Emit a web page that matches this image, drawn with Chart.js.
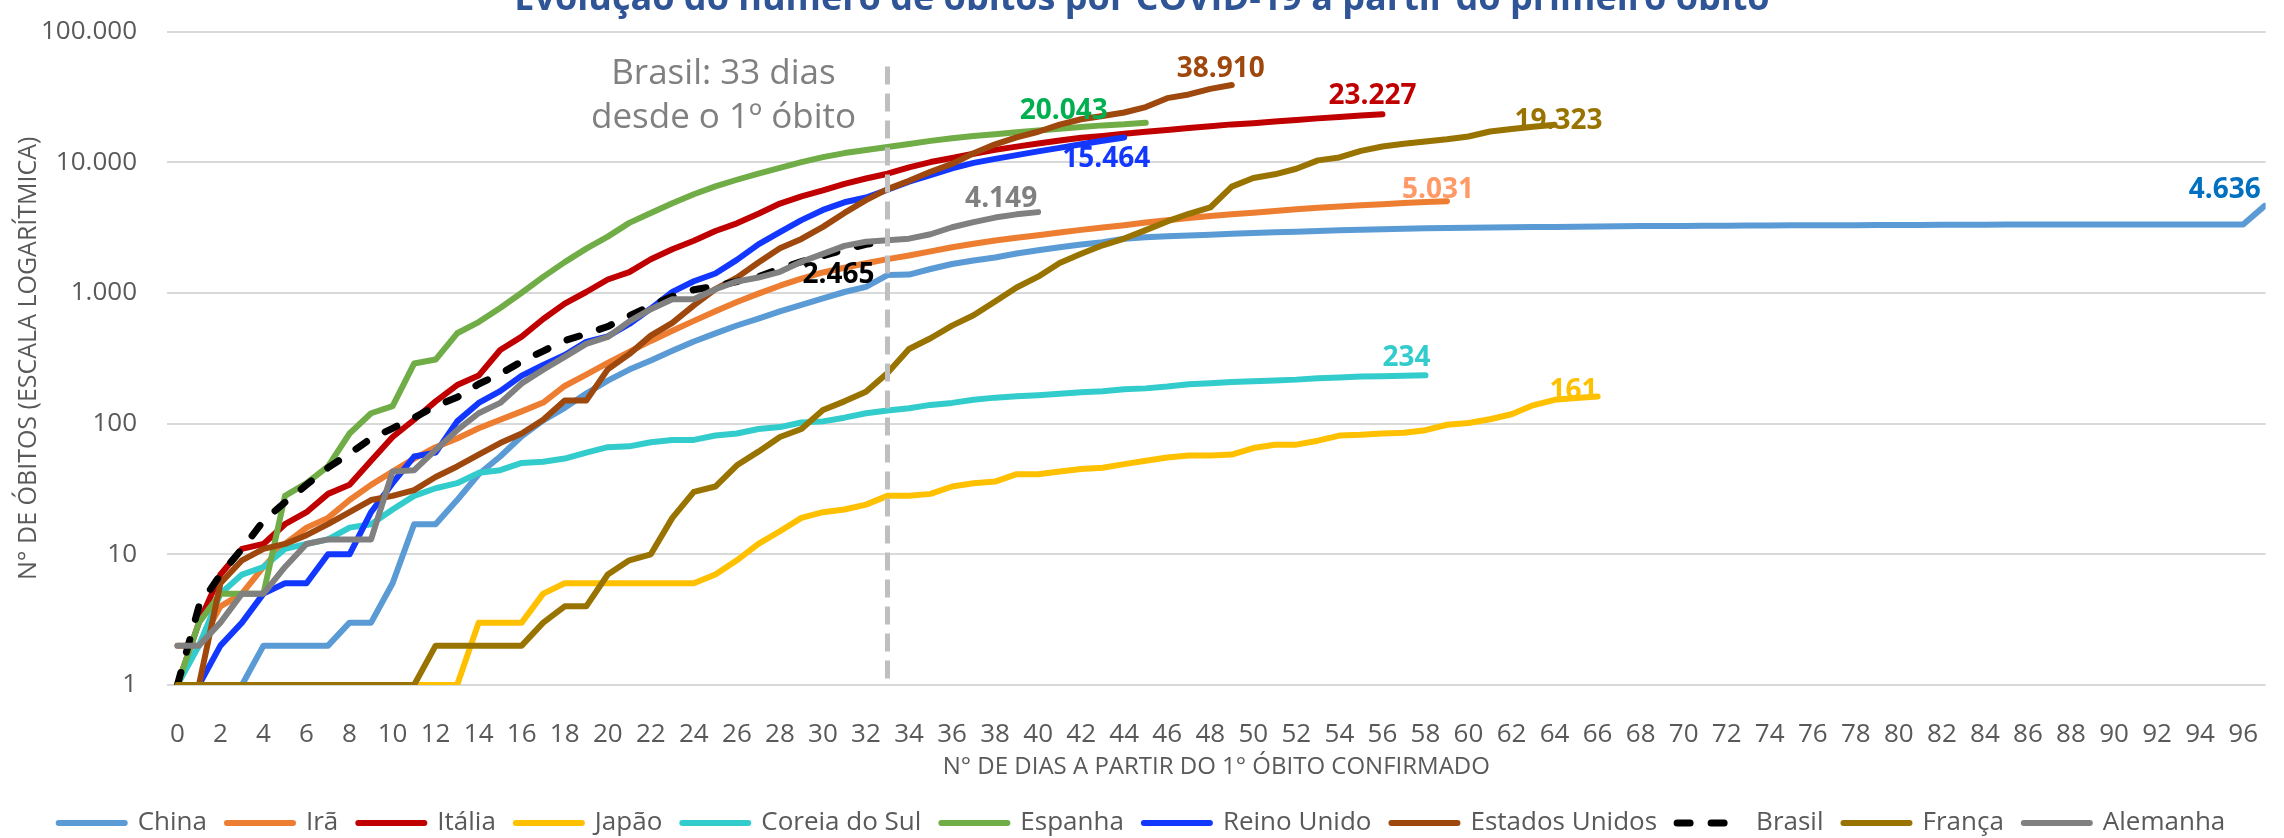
<!DOCTYPE html>
<html lang="pt-BR">
<head>
<meta charset="utf-8">
<title>Evolução do número de óbitos por COVID-19</title>
<script src="https://cdn.jsdelivr.net/npm/chart.js@4.4.1/dist/chart.umd.min.js"></script>
<style>
  html, body { margin: 0; padding: 0; background: #fff; }
  #wrap { position: relative; width: 2284px; height: 838px; overflow: hidden; }
  #grafico { position: absolute; left: 0; top: -42px; }
</style>
</head>
<body>
<div id="wrap"><canvas id="grafico" width="2284" height="888"></canvas></div>
<script>
// Eixos
const xTicks = [0, 2, 4, 6, 8, 10, 12, 14, 16, 18, 20, 22, 24, 26, 28, 30, 32, 34, 36, 38, 40, 42, 44, 46,
    48, 50, 52, 54, 56, 58, 60, 62, 64, 66, 68, 70, 72, 74, 76, 78, 80, 82, 84, 86, 88, 90, 92, 94, 96];
const yTicks = [1, 10, 100, 1000, 10000, 100000];
const yTickLabels = ['1', '10', '100', '1.000', '10.000', '100.000'];

const paises = ['China', 'Irã', 'Itália', 'Japão', 'Coreia do Sul', 'Espanha', 'Reino Unido',
    'Estados Unidos', 'Brasil', 'França', 'Alemanha'];

// Óbitos acumulados, um valor por dia a partir do 1º óbito (dia 0)
const china = [1, 1, 1, 1, 2, 2, 2, 2, 3, 3, 6, 17, 17, 26, 41, 56, 80, 106, 132, 170,
    213, 259, 304, 361, 425, 490, 563, 636, 722, 811, 908, 1016, 1113, 1370, 1381, 1523, 1665, 1770, 1868, 2004,
    2118, 2236, 2345, 2442, 2592, 2663, 2715, 2744, 2788, 2835, 2870, 2912, 2943, 2981, 3012, 3042, 3070, 3097, 3119, 3136,
    3158, 3169, 3176, 3189, 3199, 3213, 3226, 3237, 3245, 3248, 3255, 3261, 3270, 3277, 3281, 3287, 3292, 3295, 3300, 3304,
    3305, 3312, 3318, 3322, 3326, 3330, 3331, 3333, 3335, 3336, 3339, 3339, 3341, 3341, 3342, 3342, 3342, 4636];
const ira = [2, 2, 4, 5, 8, 12, 16, 19, 26, 34, 43, 54, 66, 77, 92, 107, 124, 145, 194, 237,
    291, 354, 429, 514, 611, 724, 853, 988, 1135, 1284, 1433, 1556, 1685, 1812, 1934, 2077, 2234, 2378, 2517, 2640,
    2757, 2898, 3036, 3160, 3294, 3452, 3603, 3739, 3872, 3993, 4110, 4232, 4357, 4474, 4585, 4683, 4777, 4869, 4958, 5031];
const italia = [1, 3, 7, 11, 12, 17, 21, 29, 34, 52, 79, 107, 148, 197, 233, 366, 463, 631, 827, 1016,
    1266, 1441, 1809, 2158, 2503, 2978, 3405, 4032, 4825, 5476, 6077, 6820, 7503, 8165, 9134, 10023, 10779, 11591, 12428, 13155,
    13915, 14681, 15362, 15887, 16523, 17127, 17669, 18279, 18849, 19468, 19899, 20465, 21067, 21645, 22170, 22745, 23227];
const japao = [1, 1, 1, 1, 1, 1, 1, 1, 1, 1, 1, 1, 1, 1, 3, 3, 3, 5, 6, 6,
    6, 6, 6, 6, 6, 7, 9, 12, 15, 19, 21, 22, 24, 28, 28, 29, 33, 35, 36, 41,
    41, 43, 45, 46, 49, 52, 55, 57, 57, 58, 65, 69, 69, 74, 81, 82, 84, 85, 89, 98,
    101, 108, 118, 138, 152, 157, 161];
const coreia = [1, 2, 5, 7, 8, 11, 12, 13, 16, 17, 22, 28, 32, 35, 42, 44, 50, 51, 54, 60,
    66, 67, 72, 75, 75, 81, 84, 91, 94, 102, 104, 111, 120, 126, 131, 139, 144, 152, 158, 162,
    165, 169, 174, 177, 183, 186, 192, 200, 204, 208, 211, 214, 217, 222, 225, 229, 230, 232, 234];
const espanha = [1, 3, 5, 5, 5, 28, 35, 47, 84, 120, 136, 288, 309, 491, 598, 767, 1002, 1326, 1720, 2182,
    2696, 3434, 4089, 4858, 5690, 6528, 7340, 8189, 9053, 10003, 10935, 11744, 12418, 13055, 13798, 14555, 15238, 15843, 16353, 16972,
    17489, 18056, 18579, 19130, 19478, 20043];
const reinoUnido = [1, 1, 2, 3, 5, 6, 6, 10, 10, 21, 35, 56, 60, 104, 144, 177, 233, 281, 335, 422,
    465, 578, 759, 1019, 1228, 1408, 1789, 2352, 2921, 3605, 4313, 4934, 5373, 6159, 7097, 7978, 8958, 9875, 10612, 11329,
    12107, 12868, 13729, 14576, 15464];
const estadosUnidos = [1, 1, 6, 9, 11, 12, 14, 17, 21, 26, 28, 31, 39, 47, 58, 71, 84, 107, 150, 150,
    260, 340, 471, 590, 802, 1070, 1309, 1707, 2196, 2588, 3201, 4092, 5123, 6223, 7200, 8450, 9700, 11700, 13700, 15500,
    17100, 19400, 21300, 22600, 24000, 26400, 30900, 33000, 36400, 38910];
const brasil = [1, 4, 7, 11, 18, 25, 34, 46, 59, 77, 92, 111, 136, 159, 201, 240, 299, 359, 431, 486,
    553, 667, 800, 941, 1057, 1124, 1223, 1328, 1532, 1736, 1924, 2141, 2354, 2465];
const franca = [1, 1, 1, 1, 1, 1, 1, 1, 1, 1, 1, 1, 2, 2, 2, 2, 2, 3, 4, 4,
    7, 9, 10, 19, 30, 33, 48, 61, 79, 91, 127, 148, 175, 244, 372, 450, 562, 674, 860, 1100,
    1331, 1696, 1995, 2314, 2606, 3024, 3523, 4032, 4503, 6507, 7560, 8078, 8911, 10328, 10869, 12210, 13197, 13832, 14393, 14967,
    15729, 17167, 17920, 18681, 19323];
const alemanha = [2, 2, 3, 5, 5, 8, 12, 13, 13, 13, 43, 44, 63, 89, 120, 144, 203, 258, 324, 407,
    460, 606, 750, 893, 893, 1066, 1224, 1310, 1450, 1730, 1990, 2290, 2460, 2530, 2600, 2810, 3180, 3480, 3770, 3990,
    4149];

const series = [china, ira, italia, japao, coreia, espanha, reinoUnido, estadosUnidos, brasil, franca, alemanha];

// Estilo de cada linha e do rótulo do último valor
const cores = ['#5B9BD5', '#ED7D31', '#C00000', '#FFC000', '#33CCCC', '#70AD47', '#1238FF',
    '#9E480E', '#000000', '#997300', '#808080'];
const coresRotulo = ['#0070C0', '#FF9966', '#C00000', '#FFC000', '#33CCCC', '#00B050', '#1238FF',
    '#9E480E', '#000000', '#997300', '#808080'];
const deslocRotulo = [[-40, -16], [-9, -11], [-10, -18], [-24, -6], [-19, -17], [-82, -12], [-18, 22],
    [-11, -16], [-49, 33], [4, -4], [-37, -13]];

const diaBrasil = brasil.length - 1;
const fonte = '"Open Sans", sans-serif';
const cinzaTexto = '#595959';

Chart.defaults.font.family = fonte;

function formatarMilhar(v) {
    return String(v).replace(/\B(?=(\d{3})+(?!\d))/g, '.');
}

// Linha tracejada no dia atual do Brasil, com o texto
const marcaBrasil = {
    id: 'marcaBrasil',
    afterDatasetsDraw(chart) {
        const { ctx, chartArea, scales: { x, y } } = chart;
        const px = x.getPixelForValue(diaBrasil);
        ctx.save();
        ctx.strokeStyle = '#BFBFBF';
        ctx.lineWidth = 5;
        ctx.setLineDash([18, 9]);
        ctx.beginPath();
        ctx.moveTo(px, y.getPixelForValue(54000));
        ctx.lineTo(px, chartArea.bottom - 5);
        ctx.stroke();
        ctx.setLineDash([]);
        ctx.fillStyle = '#808080';
        ctx.font = '35px ' + fonte;
        ctx.textAlign = 'center';
        ctx.textBaseline = 'alphabetic';
        ctx.fillText(`Brasil: ${diaBrasil} dias`, px - 164, chartArea.top + 52);
        ctx.fillText('desde o 1º óbito', px - 164, chartArea.top + 96);
        ctx.restore();
    }
};

// Valor final escrito ao lado do fim de cada linha
const rotulosFinais = {
    id: 'rotulosFinais',
    afterDatasetsDraw(chart) {
        const ctx = chart.ctx;
        ctx.save();
        ctx.font = 'bold 28px ' + fonte;
        ctx.textAlign = 'center';
        ctx.textBaseline = 'middle';
        chart.data.datasets.forEach((ds, i) => {
            const pts = chart.getDatasetMeta(i).data;
            const ultimo = pts[pts.length - 1];
            ctx.fillStyle = coresRotulo[i];
            ctx.fillText(formatarMilhar(ds.data[ds.data.length - 1].y),
                ultimo.x + deslocRotulo[i][0], ultimo.y + deslocRotulo[i][1]);
        });
        ctx.restore();
    }
};

const datasets = series.map((valores, i) => ({
    label: paises[i],
    data: valores.map((v, dia) => ({ x: dia, y: v })),
    borderColor: cores[i],
    backgroundColor: cores[i],
    borderWidth: paises[i] === 'Brasil' ? 7 : 6,
    borderDash: paises[i] === 'Brasil' ? [13, 21] : [],
    borderCapStyle: 'round',
    borderJoinStyle: 'round',
    pointRadius: 0,
    tension: 0,
    order: series.length - i
}));

new Chart(document.getElementById('grafico'), {
    type: 'line',
    data: { datasets },
    plugins: [marcaBrasil, rotulosFinais],
    options: {
        responsive: false,
        animation: false,
        devicePixelRatio: 1,
        layout: { padding: 0 },
        plugins: {
            title: {
                display: true,
                text: 'Evolução do número de óbitos por COVID-19 a partir do primeiro óbito',
                color: '#2F5597',
                font: { size: 36, weight: 'bold' },
                padding: { top: 20.4, bottom: 9.9 }
            },
            legend: {
                position: 'bottom',
                labels: {
                    color: cinzaTexto,
                    font: { size: 26 },
                    usePointStyle: true,
                    pointStyle: 'line',
                    pointStyleWidth: 66,
                    padding: 20,
                    generateLabels(chart) {
                        const itens = Chart.defaults.plugins.legend.labels.generateLabels(chart);
                        itens.forEach(it => {
                            const ds = chart.data.datasets[it.datasetIndex];
                            it.strokeStyle = ds.borderColor;
                            it.lineWidth = ds.borderWidth;
                            it.lineDash = ds.borderDash;
                            it.lineCap = 'round';
                            it.pointStyle = 'line';
                        });
                        return itens.sort((a, b) => a.datasetIndex - b.datasetIndex);
                    }
                }
            },
            tooltip: { enabled: false }
        },
        scales: {
            x: {
                type: 'linear',
                min: -0.4837,
                max: 97.046,
                grid: { display: false },
                border: { display: false },
                afterBuildTicks: scale => { scale.ticks = xTicks.map(v => ({ value: v })); },
                afterFit: scale => { scale.height = 105; },
                ticks: {
                    color: cinzaTexto,
                    font: { size: 26 },
                    padding: 26,
                    autoSkip: false,
                    maxRotation: 0,
                    callback: v => String(v)
                },
                title: {
                    display: true,
                    text: 'N° DE DIAS A PARTIR DO 1° ÓBITO CONFIRMADO',
                    color: cinzaTexto,
                    font: { size: 24 },
                    padding: { top: 0, bottom: 8 }
                }
            },
            y: {
                type: 'logarithmic',
                min: 1,
                max: 100000,
                grid: { color: '#D9D9D9', lineWidth: 2, drawTicks: false },
                border: { display: false },
                afterBuildTicks: scale => { scale.ticks = yTicks.map(v => ({ value: v })); },
                afterFit: scale => { scale.width = 167; },
                ticks: {
                    color: cinzaTexto,
                    font: { size: 26 },
                    padding: 30,
                    callback: v => yTickLabels[yTicks.indexOf(v)]
                },
                title: {
                    display: true,
                    text: 'N° DE ÓBITOS (ESCALA LOGARÍTMICA)',
                    color: cinzaTexto,
                    font: { size: 25 },
                    padding: { top: 14, bottom: 0 }
                }
            }
        }
    }
});
</script>
</body>
</html>
